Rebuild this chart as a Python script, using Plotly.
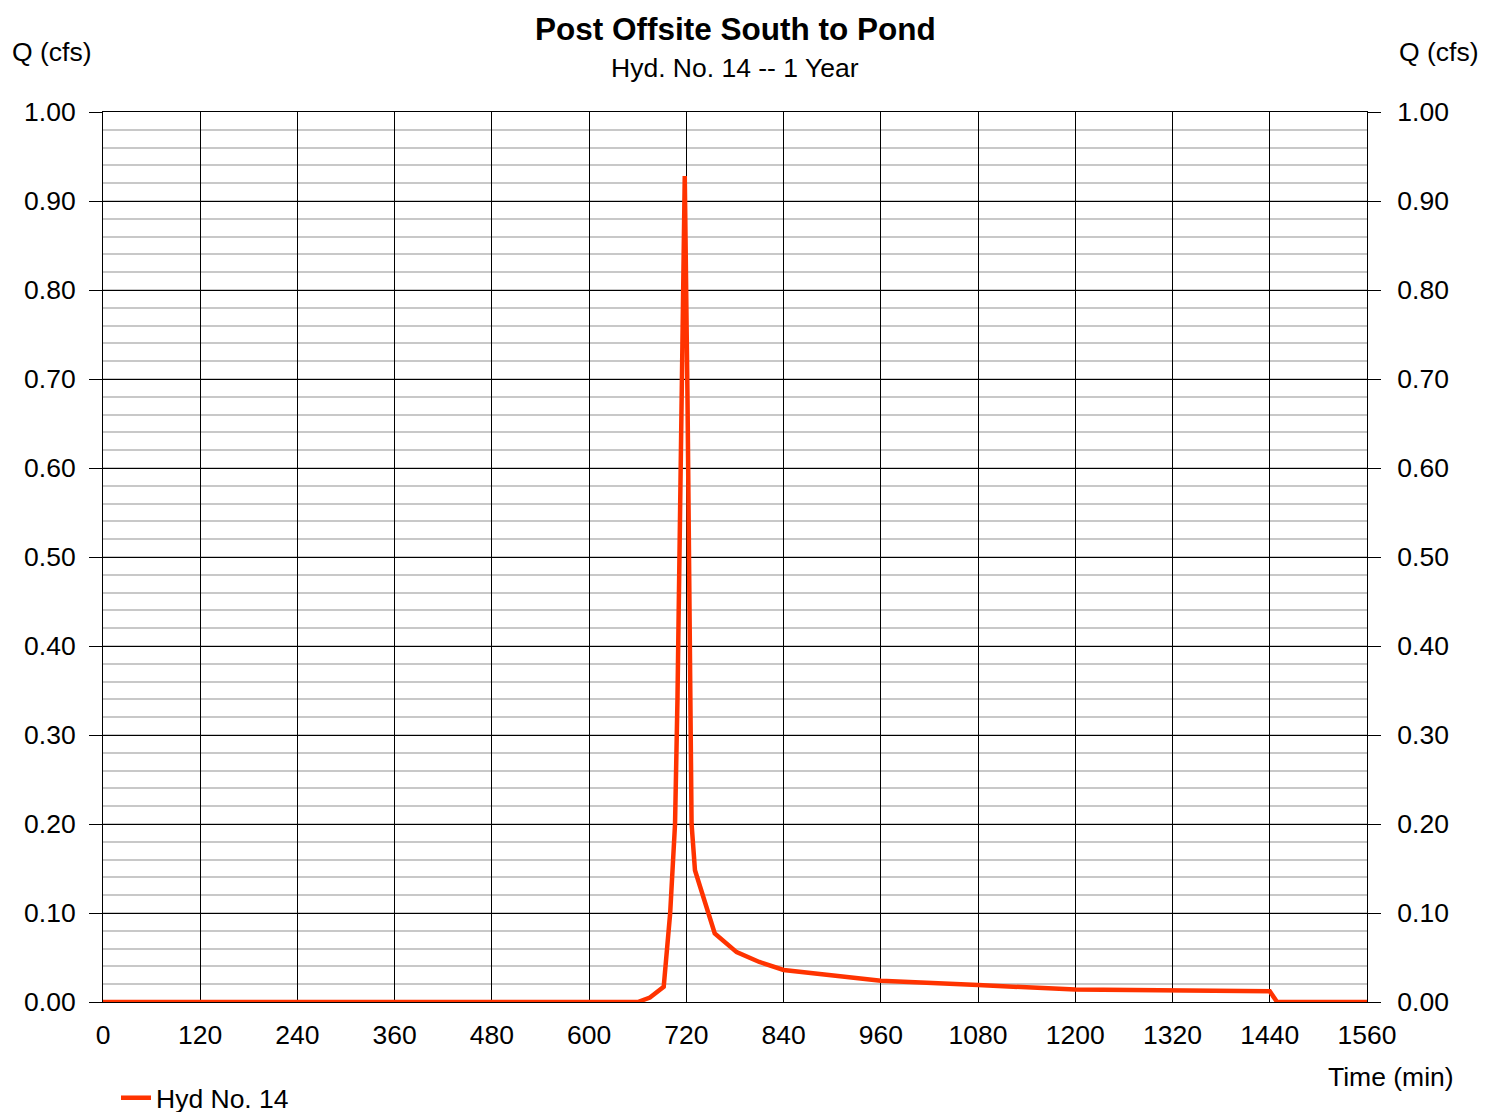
import plotly.graph_objects as go

# ---- data ----
time_min = [0, 660, 675, 692, 700, 706, 709, 714, 718, 721.4, 724.4, 726.4, 730.6,
            755, 782, 810, 840, 960, 1080, 1200, 1440, 1449, 1560]
flow_cfs = [0.0, 0.0, 0.005, 0.017, 0.10, 0.20, 0.34, 0.68, 0.928, 0.676, 0.339, 0.20, 0.148,
            0.077, 0.056, 0.045, 0.036, 0.024, 0.019, 0.014, 0.012, 0.0, 0.0]
x_ticks = list(range(0, 1561, 120))
y_ticks = [round(i * 0.1, 2) for i in range(11)]
y_tick_text = [f"{v:.2f}" for v in y_ticks]

series_name = "Hyd No. 14"
title = "<b>Post Offsite South to Pond</b>"
subtitle = "Hyd. No. 14 -- 1 Year"

FONT = "Liberation Sans, Arial, sans-serif"
LINE_COLOR = "#FF3300"
FS = 26.5

fig = go.Figure()
fig.add_trace(go.Scatter(x=time_min, y=flow_cfs, mode="lines", name=series_name,
                         line=dict(color=LINE_COLOR, width=4.5), yaxis="y"))
# invisible trace to anchor the right-hand axis
fig.add_trace(go.Scatter(x=time_min, y=flow_cfs, mode="lines", showlegend=False,
                         hoverinfo="skip", line=dict(color="rgba(0,0,0,0)", width=0),
                         yaxis="y2"))

# page is offset by the default 8px body margin
OFF = 8
W, H = 1494, 1112
L, R, T, B = 103, 1367, 112, 1002   # desired plot area in page pixels
pw, ph = R - L, B - T

def px(x):
    return (x - L) / pw

def py(y):
    return (B - y) / ph

ml, mt = L - OFF, T - OFF
mr = W - ml - pw
mb = H - mt - ph

fig.update_layout(
    width=W, height=H,
    margin=dict(l=ml, r=mr, t=mt, b=mb, pad=0, autoexpand=False),
    paper_bgcolor="white", plot_bgcolor="white",
    font=dict(family=FONT, size=FS, color="black"),
    showlegend=True,
    legend=dict(orientation="h", x=px(116), y=py(1098), xanchor="left", yanchor="middle",
                font=dict(size=FS, family=FONT), bgcolor="rgba(0,0,0,0)", borderwidth=0),
    xaxis=dict(range=[0, 1560], tickvals=x_ticks, ticks="", showgrid=True,
               gridcolor="black", gridwidth=1, showline=True, linecolor="black",
               linewidth=1, mirror=True, zeroline=False, ticklabelstandoff=9,
               tickfont=dict(size=FS, family=FONT)),
    yaxis=dict(range=[0, 1], tickvals=y_ticks, ticktext=y_tick_text, ticks="outside",
               ticklen=13, tickcolor="black", tickwidth=1, showgrid=True,
               gridcolor="black", gridwidth=1, showline=True, linecolor="black",
               linewidth=1, mirror=True, zeroline=False, ticklabelstandoff=8,
               tickfont=dict(size=FS, family=FONT),
               minor=dict(dtick=0.02, tick0=0, showgrid=True, gridcolor="#c8c8c8",
                          gridwidth=2, ticks="")),
    yaxis2=dict(range=[0, 1], tickvals=y_ticks, ticktext=y_tick_text, overlaying="y",
                side="right", ticks="outside", ticklen=13, tickcolor="black",
                tickwidth=1, showgrid=False, zeroline=False, showline=False,
                ticklabelstandoff=11, tickfont=dict(size=FS, family=FONT)),
    annotations=[
        dict(text=title, x=0.5, y=py(9), xref="paper", yref="paper", showarrow=False,
             xanchor="center", yanchor="top", font=dict(size=31.5, family=FONT)),
        dict(text=subtitle, x=0.5, y=py(68), xref="paper", yref="paper", showarrow=False,
             xanchor="center", yanchor="middle", font=dict(size=FS, family=FONT)),
        dict(text="Q (cfs)", x=px(10), y=py(52), xref="paper", yref="paper",
             showarrow=False, xanchor="left", yanchor="middle", font=dict(size=FS, family=FONT)),
        dict(text="Q (cfs)", x=px(1397), y=py(52), xref="paper", yref="paper",
             showarrow=False, xanchor="left", yanchor="middle", font=dict(size=FS, family=FONT)),
        dict(text="Time (min)", x=px(1456), y=py(1077), xref="paper", yref="paper",
             showarrow=False, xanchor="right", yanchor="middle", font=dict(size=FS, family=FONT)),
    ],
)

fig.write_html("out.html")
